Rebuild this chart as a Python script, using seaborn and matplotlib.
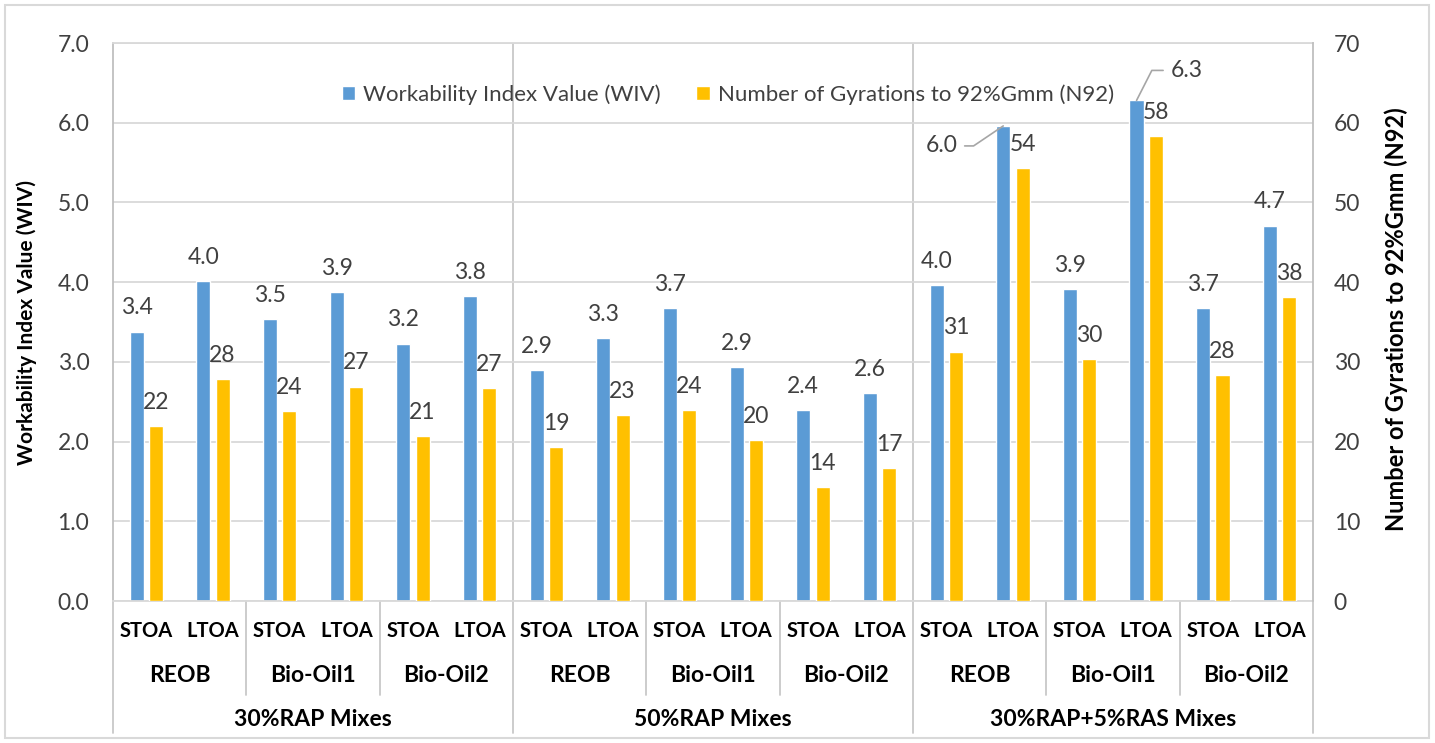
import matplotlib
matplotlib.use("Agg")
import matplotlib.pyplot as plt
import matplotlib.transforms as mtransforms
from matplotlib.patches import Patch, Rectangle
import seaborn as sns
import pandas as pd

# ---------------- data ----------------
mix_groups = ["30%RAP Mixes", "50%RAP Mixes", "30%RAP+5%RAS Mixes"]
binders = ["REOB", "Bio-Oil1", "Bio-Oil2"]
agings = ["STOA", "LTOA"]
series_names = ["Workability Index Value (WIV)", "Number of Gyrations to 92%Gmm (N92)"]
wiv = [3.38, 4.01, 3.54, 3.88, 3.23, 3.83,
       2.90, 3.30, 3.67, 2.94, 2.40, 2.61,
       3.96, 5.96, 3.91, 6.28, 3.67, 4.71]
n92 = [21.9, 27.9, 23.8, 26.9, 20.7, 26.7,
       19.3, 23.3, 23.9, 20.2, 14.3, 16.7,
       31.3, 54.3, 30.4, 58.3, 28.3, 38.1]
left_ticks = [0, 1, 2, 3, 4, 5, 6, 7]
right_ticks = [0, 10, 20, 30, 40, 50, 60, 70]

BLUE = "#5B9BD5"
ORANGE = "#FFC000"
GRID = "#D9D9D9"
LINE = "#BFBFBF"
TXT = "#404040"

cats = [f"{g}|{b}|{a}" for g in mix_groups for b in binders for a in agings]
df = pd.DataFrame({
    "cat": cats * 2,
    "series": [series_names[0]] * len(cats) + [series_names[1]] * len(cats),
    "value": wiv + n92,
})

sns.set_theme(style="white")
plt.rcParams["font.family"] = ["Lato", "DejaVu Sans"]

fig = plt.figure(figsize=(14.35, 7.43), dpi=100)
ax = fig.add_axes([0.0787, 0.1911, 0.8362, 0.7510])
ax2 = ax.twinx()

pal = {series_names[0]: BLUE, series_names[1]: ORANGE}
common = dict(x="cat", y="value", hue="series", hue_order=series_names, order=cats,
              palette=pal, width=0.58, gap=0.27, dodge=True, legend=False,
              saturation=1, errorbar=None)
sns.barplot(data=df[df.series == series_names[0]], ax=ax, **common)
sns.barplot(data=df[df.series == series_names[1]], ax=ax2, **common)

ax.set_xlim(-0.5, len(cats) - 0.5)
ax.set_ylim(0, 7)
ax2.set_ylim(0, 70)
ax.set_yticks(left_ticks)
ax.set_yticklabels([f"{v:.1f}" for v in left_ticks])
ax2.set_yticks(right_ticks)
ax2.set_yticklabels([f"{v}" for v in right_ticks])
ax.set_xticks(range(len(cats)))
ax.set_xticklabels([])
ax.set_xlabel("")
ax2.set_xlabel("")
ax.tick_params(axis="x", length=0)
ax.tick_params(axis="y", length=0, pad=17, labelsize=16.5, labelcolor=TXT)
ax2.tick_params(axis="y", length=0, pad=15, labelsize=16.5, labelcolor=TXT)

ax.set_axisbelow(True)
ax.yaxis.grid(True, color=GRID, lw=1.3)
ax.xaxis.grid(False)
for s in ["top", "bottom"]:
    ax.spines[s].set_color(GRID)
    ax.spines[s].set_linewidth(1.3)
ax.spines["left"].set_color(LINE)
ax.spines["left"].set_linewidth(1.3)
ax.spines["right"].set_visible(False)
for s in ["top", "bottom", "left"]:
    ax2.spines[s].set_visible(False)
ax2.spines["right"].set_color(LINE)
ax2.spines["right"].set_linewidth(1.3)
ax2.patch.set_visible(False)

ax.set_ylabel("Workability Index Value (WIV)", fontsize=15, fontweight="bold", color="black")
ax.yaxis.set_label_coords(-0.0633, 0.5)
ax2.set_ylabel("Number of Gyrations to 92%Gmm (N92)", fontsize=17, fontweight="bold",
               color="black", rotation=90)
ax2.yaxis.set_label_coords(1.06, 0.505)

# group separators inside plot
n_per_group = len(binders) * len(agings)
for k in range(1, len(mix_groups)):
    ax.axvline(k * n_per_group - 0.5, color="#C8C8C8", lw=1.3, zorder=0.5)

# ---------------- data labels ----------------
def label_bars(axis, container, values, fmt, special=None):
    special = special or {}
    for i, (bar, v) in enumerate(zip(container, values)):
        xc = bar.get_x() + bar.get_width() / 2
        yt = bar.get_height()
        if i in special:
            dx, dy, relpos, angB = special[i]
            axis.annotate(fmt.format(v), xy=(xc, yt), xytext=(dx, dy), textcoords="offset points",
                          ha="center", va="center", fontsize=16.5, color=TXT,
                          arrowprops=dict(arrowstyle="-", color="#A6A6A6", lw=1.2,
                                          shrinkA=3, shrinkB=0, relpos=relpos,
                                          connectionstyle=f"angle,angleA=0,angleB={angB},rad=0"))
        else:
            axis.annotate(fmt.format(v), xy=(xc, yt), xytext=(0, 17), textcoords="offset points",
                          ha="center", va="center", fontsize=16.5, color=TXT)

blue_bars = [c for c in ax.containers if len(c) > 0][0]
orange_bars = [c for c in ax2.containers if len(c) > 0][0]
label_bars(ax, blue_bars, wiv, "{:.1f}",
           special={13: (-44.6, -14.4, (1, 0.5), 34), 15: (36, 21.6, (0, 0.5), 63)})
label_bars(ax2, orange_bars, n92, "{:.0f}")

# ---------------- multi-level x labels ----------------
trans = mtransforms.blended_transform_factory(ax.transData, ax.transAxes)
for i, c in enumerate(cats):
    ax.text(i, -0.054, c.split("|")[2], transform=trans, ha="center", va="center",
            fontsize=14.5, fontweight="bold", color="black")
for gi, g in enumerate(mix_groups):
    for bi, b in enumerate(binders):
        x0 = gi * n_per_group + bi * len(agings)
        ax.text(x0 + (len(agings) - 1) / 2, -0.134, b, transform=trans, ha="center", va="center",
                fontsize=16.5, fontweight="bold", color="black")
        if bi > 0:
            ax.plot([x0 - 0.5, x0 - 0.5], [0, -0.168], transform=trans, color="#C8C8C8",
                    lw=1.3, clip_on=False)
    ax.text(gi * n_per_group + (n_per_group - 1) / 2, -0.2115, g, transform=trans,
            ha="center", va="center", fontsize=16.5, fontweight="bold", color="black")
for k in range(len(mix_groups) + 1):
    xb = k * n_per_group - 0.5
    ax.plot([xb, xb], [0, -0.2366], transform=trans, color="#C8C8C8", lw=1.3, clip_on=False)

# ---------------- legend ----------------
handles = [Patch(facecolor=BLUE), Patch(facecolor=ORANGE)]
ax2.legend(handles, series_names, loc="center", bbox_to_anchor=(0.5125, 0.907), ncol=2,
           frameon=False, handlelength=0.6, handleheight=0.6, handletextpad=0.35,
           columnspacing=1.6, fontsize=16, labelcolor=TXT)

# outer border
fig.patches.append(Rectangle((5 / 1435, 5 / 743), 1424 / 1435, 733 / 743, transform=fig.transFigure,
                             fill=False, edgecolor=GRID, lw=1.5))

fig.savefig("out.png", dpi=100)
